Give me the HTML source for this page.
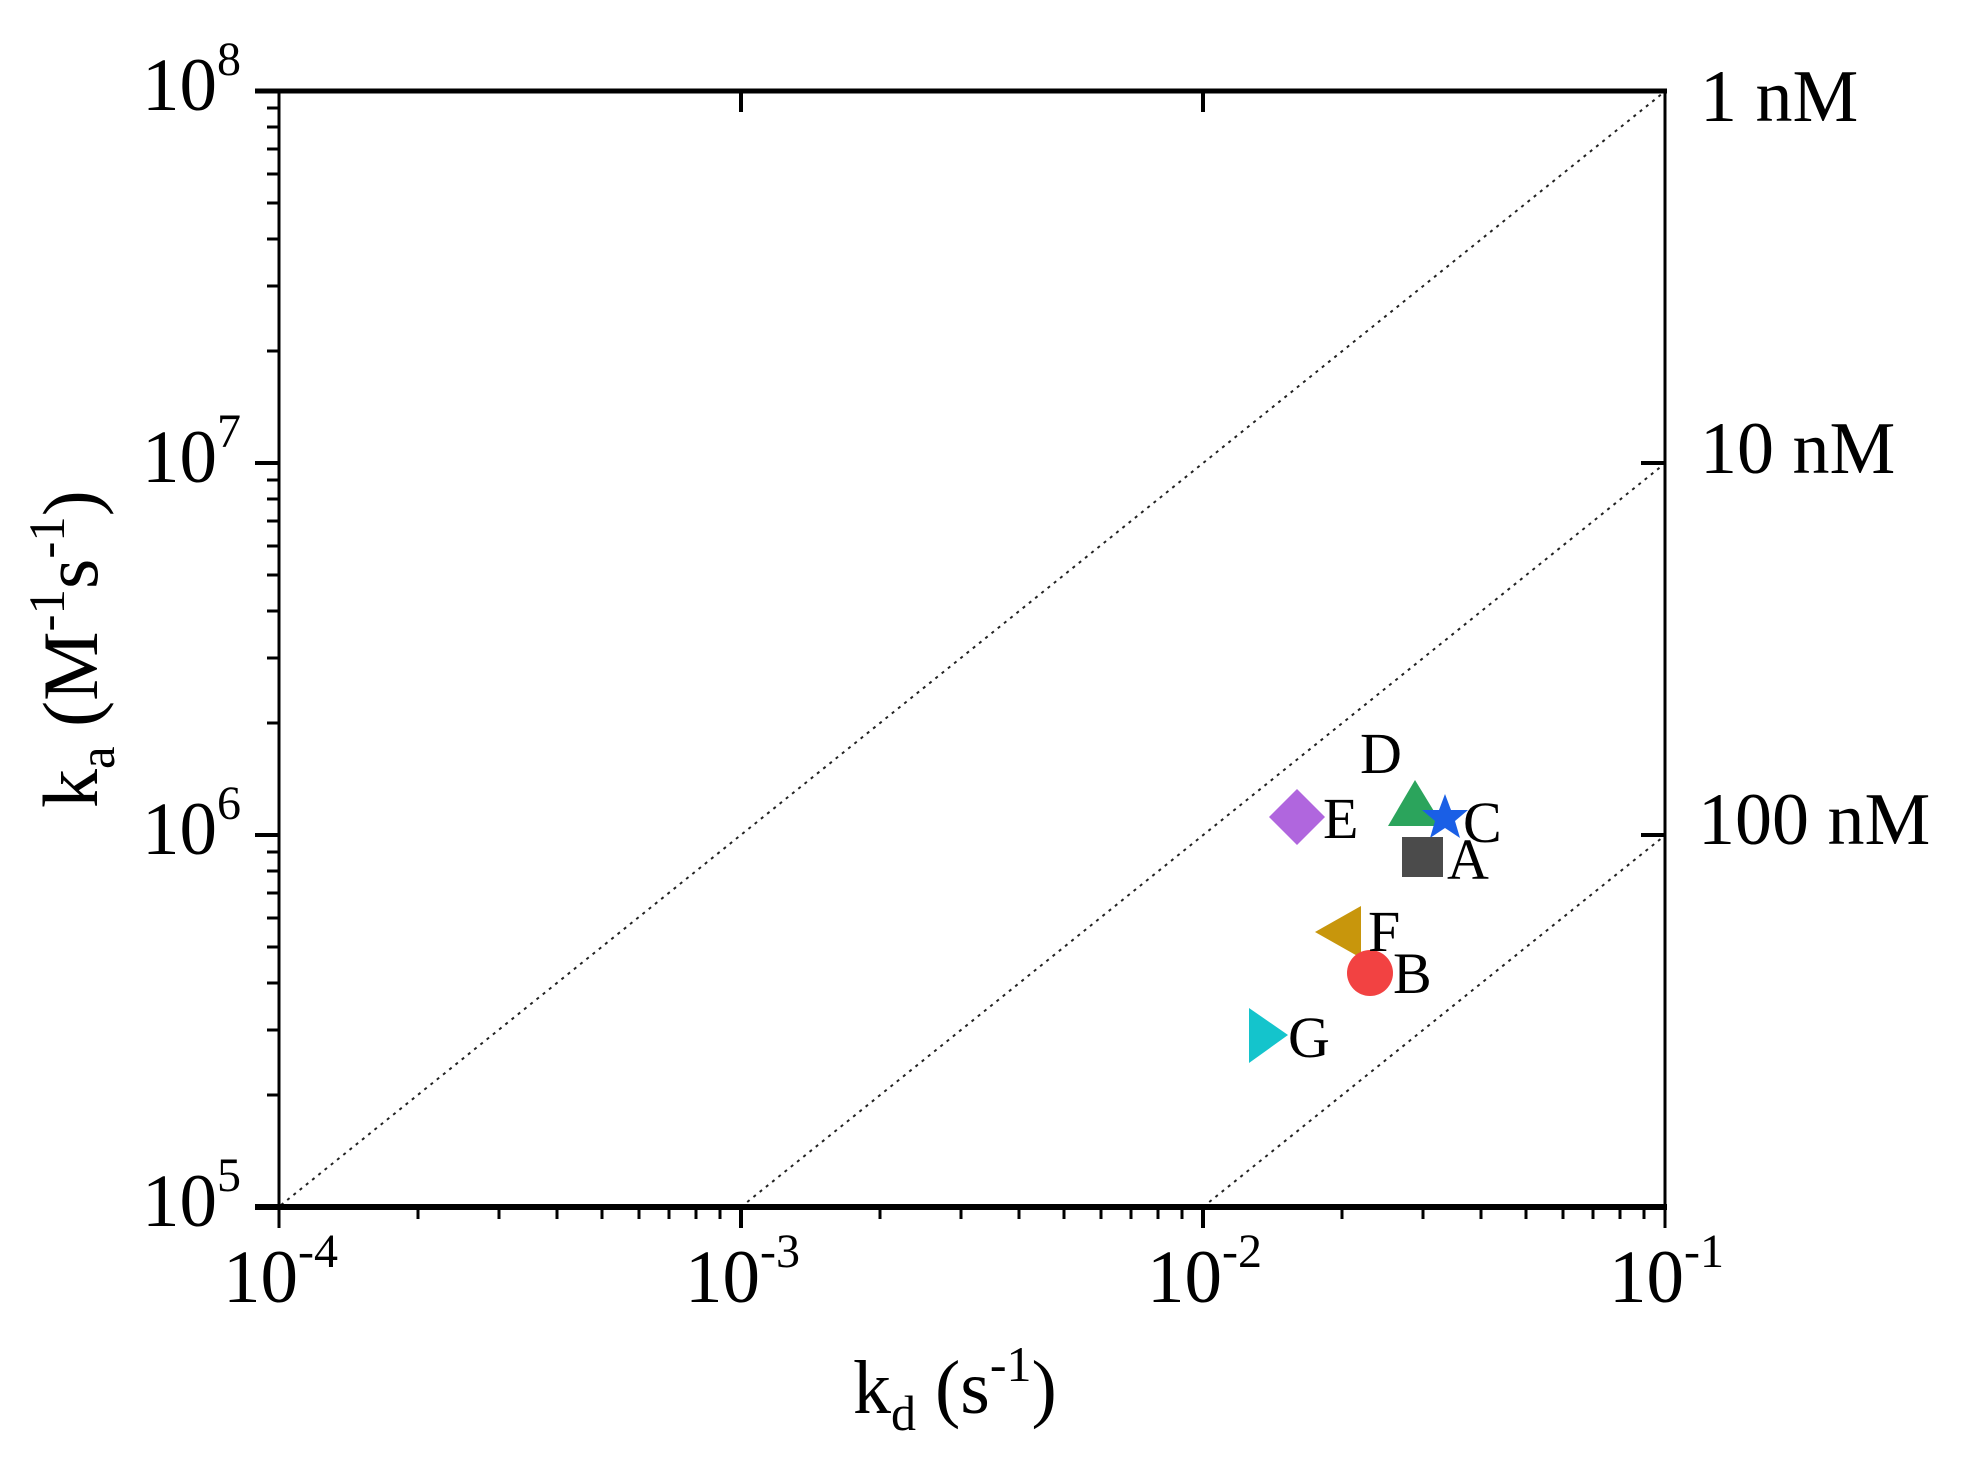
<!DOCTYPE html>
<html><head><meta charset="utf-8"><style>
html,body{margin:0;padding:0;background:#fff;}
svg{display:block;}
text{font-family:"Liberation Serif",serif;fill:#000;}
</style></head><body>
<svg width="1963" height="1476" viewBox="0 0 1963 1476" xmlns="http://www.w3.org/2000/svg">
<rect width="1963" height="1476" fill="#fff"/>
<g stroke="#222" stroke-width="2" stroke-dasharray="3,5" fill="none">
<line x1="281" y1="1205" x2="1663" y2="93"/>
<line x1="741" y1="1207" x2="1663" y2="465"/>
<line x1="1203" y1="1207" x2="1663" y2="837"/>
</g>
<g stroke="#000" fill="none">
<line x1="255" y1="91" x2="1667" y2="91" stroke-width="5"/>
<line x1="255" y1="1207" x2="1667" y2="1207" stroke-width="6"/>
<line x1="279" y1="89" x2="279" y2="1228" stroke-width="3"/>
<line x1="1665" y1="89" x2="1665" y2="1228" stroke-width="3"/>
<path d="M255 463H279M255 835H279M741 1207V1228M1203 1207V1228M741 91V112M1203 91V112M1641 463H1665M1641 835H1665" stroke-width="4"/>
<path stroke-width="3" d="M418 1207V1219M499 1207V1219M557 1207V1219M602 1207V1219M639 1207V1219M669 1207V1219M696 1207V1219M720 1207V1219M880 1207V1219M961 1207V1219M1019 1207V1219M1064 1207V1219M1101 1207V1219M1131 1207V1219M1158 1207V1219M1182 1207V1219M1342 1207V1219M1423 1207V1219M1481 1207V1219M1526 1207V1219M1563 1207V1219M1593 1207V1219M1620 1207V1219M1644 1207V1219"/>
<path stroke-width="3" d="M267 1095H279M267 1030H279M267 983H279M267 947H279M267 918H279M267 893H279M267 871H279M267 852H279M267 723H279M267 658H279M267 611H279M267 575H279M267 546H279M267 521H279M267 499H279M267 480H279M267 351H279M267 286H279M267 239H279M267 203H279M267 174H279M267 149H279M267 127H279M267 108H279"/>
</g>
<g font-size="75">
<text x="142" y="110">10<tspan font-size="48" dy="-35">8</tspan></text>
<text x="142" y="482">10<tspan font-size="48" dy="-35">7</tspan></text>
<text x="142" y="854">10<tspan font-size="48" dy="-35">6</tspan></text>
<text x="142" y="1226">10<tspan font-size="48" dy="-35">5</tspan></text>
</g>
<g font-size="75">
<text x="223" y="1302">10<tspan font-size="48" dy="-35">-4</tspan></text>
<text x="685" y="1302">10<tspan font-size="48" dy="-35">-3</tspan></text>
<text x="1147" y="1302">10<tspan font-size="48" dy="-35">-2</tspan></text>
<text x="1609" y="1302">10<tspan font-size="48" dy="-35">-1</tspan></text>
</g>
<g font-size="74">
<text x="1700" y="121">1 nM</text>
<text x="1700" y="473">10 nM</text>
<text x="1698" y="844">100 nM</text>
</g>
<text x="853" y="1413" font-size="76">k<tspan font-size="50" dy="17">d</tspan><tspan dy="-17"> (s</tspan><tspan font-size="50" dy="-32">-1</tspan><tspan dy="32">)</tspan></text>
<text transform="translate(97,808) rotate(-90)" font-size="78">k<tspan font-size="51" dy="17">a</tspan><tspan dy="-17"> (M</tspan><tspan font-size="51" dy="-33">-1</tspan><tspan dy="33">s</tspan><tspan font-size="51" dy="-33">-1</tspan><tspan dy="33">)</tspan></text>
<polygon points="1297,789 1325,817 1297,845 1269,817" fill="#b066de"/>
<polygon points="1415,780 1443,826 1388,826" fill="#2ba45c"/>
<polygon points="1445,794 1451,810 1468,810 1455,821 1460,838 1445,828 1430,838 1435,821 1422,810 1439,810" fill="#1a5fe6"/>
<rect x="1402" y="837" width="41" height="40" fill="#4b4b4b"/>
<polygon points="1315,932 1361,906 1361,958" fill="#c8960c"/>
<circle cx="1370" cy="973" r="23" fill="#f24242"/>
<polygon points="1249,1008 1288,1035 1249,1063" fill="#14c4cc"/>
<g font-size="58">
<text x="1360" y="773">D</text>
<text x="1323" y="838">E</text>
<text x="1463" y="842">C</text>
<text x="1447" y="879">A</text>
<text x="1368" y="951">F</text>
<text x="1393" y="993">B</text>
<text x="1288" y="1057">G</text>
</g>
</svg>
</body></html>
